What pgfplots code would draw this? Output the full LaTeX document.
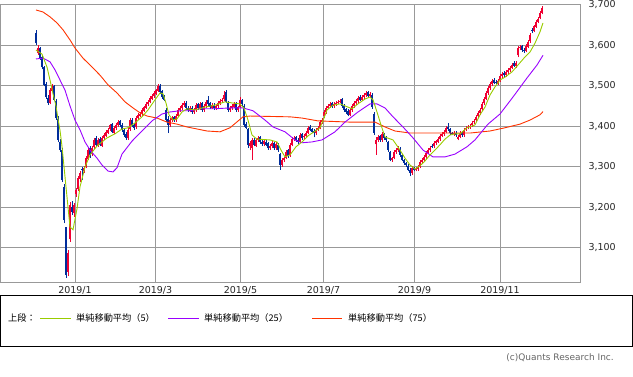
\documentclass[border=0pt]{standalone}
\usepackage{fontspec}
\setmainfont{DejaVu Sans}
\newfontfamily\jp{Noto Sans CJK JP}
\usepackage{pgfplots}
\usepackage{pgfplotstable}
\pgfplotsset{compat=1.18}
\definecolor{cred}{RGB}{240,0,50}
\definecolor{cblue}{RGB}{0,45,155}
\definecolor{mafive}{RGB}{153,204,0}
\definecolor{matwentyfive}{RGB}{153,0,255}
\definecolor{maseventyfive}{RGB}{255,51,0}
\definecolor{gridgray}{RGB}{153,153,153}

\pgfplotstableread{
x o h l c
36 3630 3638 3600 3605
38 3580 3600 3576 3593
40 3592 3596 3564 3568
42 3570 3575 3540 3546
44 3545 3549 3498 3502
46 3505 3509 3468 3472
48 3470 3478 3452 3457
50 3458 3494 3454 3489
52 3488 3503 3484 3497
54 3498 3502 3461 3465
56 3462 3466 3415 3420
58 3418 3424 3360 3366
60 3362 3368 3336 3341
62 3340 3346 3262 3267
64 3250 3256 3160 3168
66 3150 3152 3025 3033
68 3040 3093 3030 3087
70 3120 3212 3115 3205
72 3200 3215 3180 3188
74 3185 3210 3175 3205
76 3232 3248 3225 3243
78 3245 3278 3240 3272
80 3270 3288 3262 3284
82 3295 3300 3268 3292
84 3290 3302 3284 3297
86 3300 3326 3296 3321
88 3320 3346 3316 3341
90 3345 3350 3322 3329
92 3330 3350 3326 3346
94 3348 3370 3344 3366
96 3370 3376 3350 3354
98 3352 3370 3348 3366
100 3368 3372 3350 3354
102 3352 3375 3348 3371
104 3370 3382 3366 3378
106 3376 3390 3372 3386
108 3384 3395 3380 3391
110 3392 3406 3388 3403
112 3405 3409 3382 3386
114 3384 3400 3380 3396
116 3395 3407 3391 3403
118 3402 3414 3398 3410
120 3412 3416 3399 3403
122 3404 3408 3386 3391
124 3390 3394 3374 3378
126 3380 3385 3366 3371
128 3370 3395 3366 3391
130 3392 3419 3388 3415
132 3416 3420 3398 3403
134 3404 3408 3390 3396
136 3398 3424 3394 3420
138 3420 3432 3416 3428
140 3426 3434 3422 3430
142 3430 3444 3426 3440
144 3438 3451 3434 3447
146 3446 3459 3442 3455
148 3454 3464 3450 3460
150 3460 3474 3456 3470
152 3468 3479 3464 3475
154 3474 3486 3470 3482
156 3480 3493 3476 3489
158 3488 3503 3484 3499
160 3500 3503 3480 3484
162 3486 3490 3468 3472
164 3474 3478 3461 3465
166 3440 3444 3410 3415
168 3418 3424 3383 3403
170 3402 3419 3398 3415
172 3414 3424 3410 3420
174 3422 3426 3411 3415
176 3414 3429 3410 3425
178 3426 3444 3422 3440
180 3440 3449 3436 3445
182 3444 3456 3440 3452
184 3452 3461 3448 3457
186 3458 3462 3441 3445
188 3446 3450 3436 3440
190 3438 3449 3434 3445
192 3446 3450 3431 3435
194 3434 3444 3430 3440
196 3440 3456 3436 3452
198 3454 3458 3441 3445
200 3444 3459 3440 3455
202 3456 3460 3436 3440
204 3440 3454 3436 3450
206 3450 3464 3446 3460
208 3465 3475 3451 3455
210 3456 3460 3443 3447
212 3446 3456 3442 3452
214 3452 3456 3441 3445
216 3444 3454 3440 3450
218 3450 3461 3446 3457
220 3456 3466 3452 3462
222 3462 3469 3458 3465
224 3466 3488 3462 3477
226 3485 3490 3456 3460
228 3458 3462 3436 3440
230 3440 3450 3436 3445
232 3444 3454 3440 3450
234 3448 3459 3444 3455
236 3456 3460 3436 3440
238 3440 3451 3436 3447
240 3448 3472 3444 3465
242 3464 3468 3450 3455
244 3450 3454 3398 3403
246 3406 3410 3392 3396
248 3392 3396 3346 3354
250 3350 3364 3340 3359
252 3345 3370 3317 3366
254 3366 3370 3350 3354
256 3352 3370 3348 3366
258 3366 3375 3362 3371
260 3372 3376 3357 3361
262 3362 3366 3352 3356
264 3355 3367 3351 3363
266 3362 3366 3350 3354
268 3358 3362 3342 3346
270 3346 3355 3342 3351
272 3350 3363 3346 3359
274 3358 3362 3342 3346
276 3345 3360 3341 3356
278 3354 3358 3337 3341
280 3330 3334 3292 3304
282 3305 3321 3300 3317
284 3316 3325 3312 3321
286 3322 3340 3318 3336
288 3340 3344 3322 3326
290 3328 3358 3324 3354
292 3354 3372 3350 3368
294 3368 3375 3364 3371
296 3372 3376 3362 3366
298 3366 3370 3357 3361
300 3362 3382 3358 3378
302 3380 3384 3367 3371
304 3372 3380 3368 3376
306 3376 3387 3372 3383
308 3384 3400 3380 3396
310 3398 3402 3387 3391
312 3392 3396 3382 3386
314 3388 3392 3372 3383
316 3382 3395 3378 3391
318 3392 3400 3388 3396
320 3396 3414 3392 3410
322 3410 3419 3406 3415
324 3425 3439 3421 3435
326 3434 3449 3430 3445
328 3446 3454 3442 3450
330 3450 3459 3446 3455
332 3456 3460 3446 3450
334 3450 3459 3446 3455
336 3454 3461 3450 3457
338 3458 3464 3454 3460
340 3460 3466 3456 3462
342 3466 3470 3446 3450
344 3450 3454 3436 3440
346 3442 3446 3431 3435
348 3438 3442 3424 3428
350 3428 3444 3424 3440
352 3440 3454 3436 3450
354 3450 3461 3446 3457
356 3456 3466 3452 3462
358 3462 3474 3458 3470
360 3472 3476 3461 3465
362 3465 3476 3461 3472
364 3472 3481 3468 3477
366 3476 3486 3472 3482
368 3484 3488 3471 3475
370 3475 3484 3471 3480
372 3478 3482 3443 3447
374 3430 3434 3378 3383
376 3355 3372 3329 3366
378 3366 3377 3362 3373
380 3375 3379 3362 3366
382 3366 3385 3362 3381
384 3380 3384 3367 3371
386 3372 3376 3362 3366
388 3360 3364 3337 3341
390 3335 3339 3313 3317
392 3316 3325 3312 3321
394 3322 3340 3318 3336
396 3336 3345 3332 3341
398 3340 3350 3336 3346
400 3344 3348 3325 3329
402 3328 3332 3313 3317
404 3316 3320 3305 3309
406 3308 3312 3300 3304
408 3302 3306 3288 3292
410 3292 3296 3276 3284
412 3284 3301 3280 3297
414 3296 3300 3288 3292
416 3292 3298 3288 3294
418 3294 3303 3290 3299
420 3300 3316 3296 3312
422 3312 3321 3308 3317
424 3316 3328 3312 3324
426 3324 3338 3320 3334
428 3334 3345 3330 3341
430 3340 3350 3336 3346
432 3352 3356 3347 3351
434 3350 3363 3346 3359
436 3358 3367 3354 3363
438 3362 3372 3358 3368
440 3368 3380 3364 3376
442 3376 3385 3372 3381
444 3380 3390 3376 3386
446 3386 3400 3382 3396
448 3398 3408 3389 3393
450 3392 3396 3379 3383
452 3382 3386 3377 3381
454 3380 3387 3376 3383
456 3384 3388 3374 3378
458 3368 3377 3365 3373
460 3374 3387 3370 3383
462 3384 3388 3374 3378
464 3378 3395 3374 3391
466 3392 3400 3388 3396
468 3396 3402 3392 3398
470 3398 3405 3394 3401
472 3402 3412 3398 3408
474 3410 3417 3406 3413
476 3414 3427 3410 3423
478 3424 3437 3420 3433
480 3432 3444 3428 3440
482 3442 3459 3438 3455
484 3456 3471 3452 3467
486 3468 3486 3464 3482
488 3482 3498 3478 3494
490 3494 3508 3490 3504
492 3504 3516 3500 3512
494 3514 3518 3503 3507
496 3510 3515 3505 3509
498 3506 3516 3502 3512
500 3514 3528 3510 3524
502 3524 3533 3520 3529
504 3532 3536 3522 3526
506 3526 3538 3522 3534
508 3534 3543 3530 3539
510 3538 3548 3534 3544
512 3544 3555 3540 3551
514 3556 3560 3545 3549
516 3548 3560 3544 3557
518 3575 3597 3570 3593
520 3594 3600 3588 3596
522 3597 3600 3584 3588
524 3589 3593 3581 3585
526 3586 3602 3582 3598
528 3596 3612 3592 3608
530 3610 3629 3606 3625
532 3638 3642 3630 3635
534 3636 3651 3632 3647
536 3646 3661 3642 3657
538 3658 3669 3654 3665
540 3668 3684 3664 3680
542 3680 3698 3676 3692
}\candles

\begin{document}
\begin{tikzpicture}
\useasboundingbox (0pt,0pt) rectangle (633pt,-376pt);
\begin{axis}[
  at={(1pt,-4.7pt)}, anchor=north west,
  scale only axis, width=579pt, height=277.3pt,
  xmin=1, xmax=580, ymin=3015, ymax=3700,
  axis line style={draw=gridgray, line width=1pt},
  xtick={75,155.5,240.5,323.5,414.5,500},
  xticklabels={2019/1,2019/3,2019/5,2019/7,2019/9,2019/11},
  ytick={3100,3200,3300,3400,3500,3600,3700},
  yticklabels={{3,100},{3,200},{3,300},{3,400},{3,500},{3,600},{3,700}},
  yticklabel pos=right,
  major tick length=0pt,
  grid=major, grid style={draw=gridgray, line width=1pt},
  tick label style={font=\fontsize{9.5}{11}\selectfont, text=black!85},
  yticklabel style={anchor=west, xshift=5pt},
  xticklabel style={anchor=north, yshift=-1pt},
  /pgf/number format/assume math mode=true,
]
% wicks
\addplot[draw=none, mark=none, forget plot,
  error bars/.cd, y dir=plus, y explicit, error mark=none,
  error bar style={draw=cred, line width=0.8pt}]
  table[x=x, y=l, y error expr={(\thisrow{c}>=\thisrow{o})*(\thisrow{h}-\thisrow{l})}] {\candles};
\addplot[draw=none, mark=none, forget plot,
  error bars/.cd, y dir=plus, y explicit, error mark=none,
  error bar style={draw=cblue, line width=0.8pt}]
  table[x=x, y=l, y error expr={(\thisrow{c}<\thisrow{o})*(\thisrow{h}-\thisrow{l})}] {\candles};
% bodies
\addplot[draw=none, mark=none, forget plot,
  error bars/.cd, y dir=plus, y explicit, error mark=none,
  error bar style={draw=cred, line width=2.2pt}]
  table[x=x, y=o, y error expr={max(\thisrow{c}-\thisrow{o},0)}] {\candles};
\addplot[draw=none, mark=none, forget plot,
  error bars/.cd, y dir=plus, y explicit, error mark=none,
  error bar style={draw=cblue, line width=2.2pt}]
  table[x=x, y=c, y error expr={max(\thisrow{o}-\thisrow{c},0)}] {\candles};
% MA75
\addplot[maseventyfive, line width=0.9pt, mark=none] coordinates {
(36,3687) (43,3682) (50,3670) (57,3655) (63,3638) (70,3613) (75,3593) (83,3568)
(92,3546) (100,3526) (108,3502) (117,3482) (125,3460) (133,3445) (140,3433)
(147,3425) (157,3420) (167,3410) (177,3405) (187,3398) (197,3393) (207,3388)
(220,3386) (230,3396) (243,3423) (250,3425) (290,3423) (302,3420) (318,3413)
(350,3410) (375,3410) (385,3398) (395,3388) (410,3383) (470,3383) (490,3388)
(505,3396) (520,3405) (530,3415) (540,3428) (543,3436)};
% MA25
\addplot[matwentyfive, line width=0.9pt, mark=none] coordinates {
(36,3566) (43,3568) (50,3559) (55,3539) (60,3514) (65,3489) (70,3450) (75,3415)
(80,3391) (85,3361) (90,3341) (97,3321) (102,3304) (108,3289) (113,3287)
(117,3297) (122,3331) (132,3363) (142,3388) (152,3413) (162,3430) (170,3435)
(180,3438) (190,3438) (200,3443) (215,3443) (230,3445) (243,3445) (253,3438)
(265,3415) (273,3398) (285,3386) (295,3366) (302,3359) (312,3361) (322,3366)
(335,3386) (345,3410) (358,3435) (370,3455) (377,3455) (385,3445) (393,3423)
(403,3398) (413,3371) (423,3341) (433,3324) (445,3324) (455,3331) (467,3349)
(475,3366) (488,3405) (500,3430) (513,3472) (527,3519) (537,3551) (543,3575)};
% MA5
\addplot[mafive, line width=0.9pt, mark=none] coordinates {
(36,3588) (42,3578) (47,3546) (50,3514) (53,3480) (56,3450) (58,3418) (60,3390)
(62,3350) (64,3300) (66,3250) (68,3200) (70,3151) (73,3144) (77,3196) (80,3250)
(85,3299) (90,3329) (97,3351) (107,3371) (115,3381) (122,3393) (128,3396)
(135,3408) (142,3423) (148,3440) (155,3465) (160,3482) (163,3480) (166,3457)
(169,3428) (173,3415) (177,3418) (182,3435) (187,3443) (195,3440) (205,3447)
(215,3452) (225,3460) (233,3457) (240,3455) (244,3445) (248,3415) (252,3378)
(257,3368) (270,3366) (277,3361) (281,3341) (285,3324) (290,3329) (296,3349)
(302,3361) (308,3376) (314,3386) (320,3396) (324,3420) (327,3440) (333,3452)
(340,3455) (345,3450) (352,3443) (358,3455) (365,3467) (370,3472) (373,3465)
(377,3435) (381,3403) (385,3373) (393,3366) (400,3341) (405,3321) (410,3304)
(415,3294) (420,3302) (425,3314) (430,3329) (435,3341) (440,3354) (445,3368)
(450,3378) (455,3381) (460,3381) (467,3396) (475,3403) (480,3428) (485,3447)
(490,3477) (495,3497) (500,3514) (505,3521) (512,3534) (518,3551) (525,3571)
(530,3583) (535,3605) (540,3633) (543,3655)};
\end{axis}
% legend box
\draw[black, line width=1pt] (0.5pt,-295pt) rectangle (632.5pt,-346pt);
\begin{scope}[every node/.style={anchor=west, inner sep=0pt, font=\jp\fontsize{9.2}{11}\selectfont}]
\node at (8pt,-318pt) {上段：};
\draw[mafive, line width=1pt] (40pt,-318pt) -- (71pt,-318pt);
\node at (76pt,-318pt) {単純移動平均（5）};
\draw[matwentyfive, line width=1pt] (168pt,-318pt) -- (199pt,-318pt);
\node at (204pt,-318pt) {単純移動平均（25）};
\draw[maseventyfive, line width=1pt] (312pt,-318pt) -- (342pt,-318pt);
\node at (348pt,-318pt) {単純移動平均（75）};
\end{scope}
\node[anchor=east, inner sep=0pt, text=black!60, font=\fontsize{9}{11}\selectfont] at (614pt,-358pt) {(c)Quants Research Inc.};
\end{tikzpicture}
\end{document}
